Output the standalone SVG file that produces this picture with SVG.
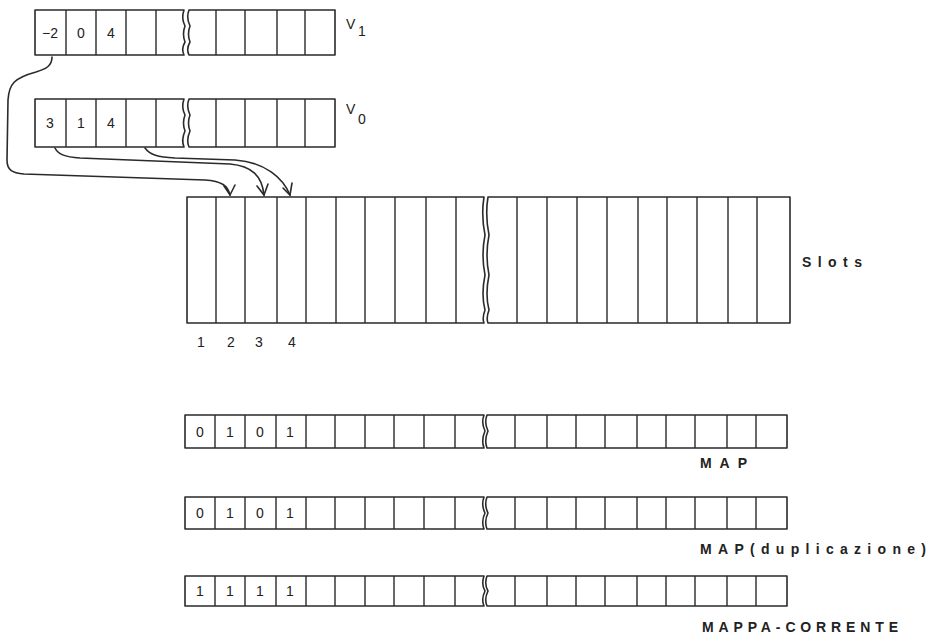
<svg xmlns="http://www.w3.org/2000/svg" width="928" height="643" viewBox="0 0 928 643">
<style>
.b{fill:none;stroke:#2a2a2a;stroke-width:1.6;stroke-linejoin:round}
.c{stroke:#2a2a2a;stroke-width:1.4}
.t{font-family:"Liberation Sans",Arial,sans-serif;fill:#222;font-size:14px}
.l{font-family:"Liberation Sans",Arial,sans-serif;fill:#222;font-size:14px;font-weight:bold}
.a{fill:none;stroke:#2a2a2a;stroke-width:1.6;stroke-linecap:round}
</style>
<rect width="928" height="643" fill="#fff"/>

<g id="V1">
<path class="b" d="M35,10 H184 Q181,18 185,26 Q182,34 185,42 Q181,49 184,55 H35 Z"/>
<path class="b" d="M335,10 H189 Q186,18 190,26 Q187,34 190,42 Q186,49 189,55 H335 Z"/>
<path class="c" d="M66,10V55M96,10V55M126,10V55M156,10V55M216,10V55M245,10V55M277,10V55M305,10V55"/>
<text class="t" x="50" y="38" text-anchor="middle">−2</text>
<text class="t" x="81" y="38" text-anchor="middle">0</text>
<text class="t" x="111" y="38" text-anchor="middle">4</text>
<text class="t" x="346" y="29" font-size="15">V</text>
<text class="t" x="358" y="36" font-size="12">1</text>
</g>

<g id="V0">
<path class="b" d="M35,99 H184 Q181,107 185,115 Q182,123 185,131 Q181,140 184,147 H35 Z"/>
<path class="b" d="M335,99 H189 Q186,107 190,115 Q187,123 190,131 Q186,140 189,147 H335 Z"/>
<path class="c" d="M66,99V147M96,99V147M126,99V147M156,99V147M216,99V147M245,99V147M277,99V147M305,99V147"/>
<text class="t" x="50" y="128" text-anchor="middle">3</text>
<text class="t" x="81" y="128" text-anchor="middle">1</text>
<text class="t" x="111" y="128" text-anchor="middle">4</text>
<text class="t" x="346" y="114" font-size="15">V</text>
<text class="t" x="358" y="124" font-size="12">0</text>
</g>

<g id="Slots">
<path class="b" d="M187,197 H484 Q481,215 485,235 Q481,255 485,275 Q481,295 485,310 Q482,318 484,323 H187 Z"/>
<path class="b" d="M790,197 H488 Q485,215 489,235 Q485,255 489,275 Q485,295 489,310 Q486,318 488,323 H790 Z"/>
<path class="c" d="M216,197V323M245,197V323M277,197V323M306,197V323M336,197V323M365,197V323M395,197V323M426,197V323M456,197V323M517,197V323M547,197V323M577,197V323M607,197V323M638,197V323M667,197V323M697,197V323M728,197V323M757,197V323"/>
<text class="l" x="802" y="267" textLength="60" font-size="14">Slots</text>
<text class="t" x="201" y="347" text-anchor="middle">1</text>
<text class="t" x="231" y="347" text-anchor="middle">2</text>
<text class="t" x="259" y="347" text-anchor="middle">3</text>
<text class="t" x="292" y="347" text-anchor="middle">4</text>
</g>

<g id="MAP">
<path class="b" d="M185,415 H484 Q481,423 485,431 Q481,440 484,448 H185 Z"/>
<path class="b" d="M787,415 H487 Q484,423 488,431 Q484,440 487,448 H787 Z"/>
<path class="c" d="M215,415V448M245,415V448M276,415V448M306,415V448M335,415V448M365,415V448M394,415V448M424,415V448M455,415V448M515,415V448M547,415V448M576,415V448M605,415V448M637,415V448M666,415V448M695,415V448M727,415V448M756,415V448"/>
<text class="t" x="200" y="437" text-anchor="middle">0</text>
<text class="t" x="230" y="437" text-anchor="middle">1</text>
<text class="t" x="260" y="437" text-anchor="middle">0</text>
<text class="t" x="290" y="437" text-anchor="middle">1</text>
<text class="l" x="700" y="468" textLength="47" font-size="13">MAP</text>
</g>

<g id="MAP-duplicazione">
<path class="b" d="M185,497 H484 Q481,505 485,513 Q481,521 484,529 H185 Z"/>
<path class="b" d="M787,497 H487 Q484,505 488,513 Q484,521 487,529 H787 Z"/>
<path class="c" d="M215,497V529M245,497V529M276,497V529M306,497V529M335,497V529M365,497V529M394,497V529M424,497V529M455,497V529M515,497V529M547,497V529M576,497V529M605,497V529M637,497V529M666,497V529M695,497V529M727,497V529M756,497V529"/>
<text class="t" x="200" y="518" text-anchor="middle">0</text>
<text class="t" x="230" y="518" text-anchor="middle">1</text>
<text class="t" x="260" y="518" text-anchor="middle">0</text>
<text class="t" x="290" y="518" text-anchor="middle">1</text>
<text class="l" x="700" y="554" textLength="226" font-size="14">MAP(duplicazione)</text>
</g>

<g id="MAPPA-CORRENTE">
<path class="b" d="M185,576 H484 Q481,584 485,591 Q481,599 484,606 H185 Z"/>
<path class="b" d="M787,576 H487 Q484,584 488,591 Q484,599 487,606 H787 Z"/>
<path class="c" d="M215,576V606M245,576V606M276,576V606M306,576V606M335,576V606M365,576V606M394,576V606M424,576V606M455,576V606M515,576V606M547,576V606M576,576V606M605,576V606M637,576V606M666,576V606M695,576V606M727,576V606M756,576V606"/>
<text class="t" x="200" y="596" text-anchor="middle">1</text>
<text class="t" x="230" y="596" text-anchor="middle">1</text>
<text class="t" x="260" y="596" text-anchor="middle">1</text>
<text class="t" x="290" y="596" text-anchor="middle">1</text>
<text class="l" x="702" y="632" textLength="196" font-size="14">MAPPA-CORRENTE</text>
</g>

<g id="connectors">
<path class="a" d="M52,57 C52,66 46,69 36,72 C14,78 9,84 8,100 L7,160 C7,170 12,173 24,174 L205,180 C222,181 228,186 230,195"/>
<path class="a" d="M224,186 L230,195 L235,185"/>
<path class="a" d="M55,148 C58,154 64,157 80,158 L230,164 C252,166 262,176 264,195"/>
<path class="a" d="M257,186 L264,195 L268,184"/>
<path class="a" d="M145,148 C150,155 158,157 175,158 L235,160 C265,162 283,178 290,195"/>
<path class="a" d="M283,188 L290,195 L292,183"/>
</g>
</svg>
